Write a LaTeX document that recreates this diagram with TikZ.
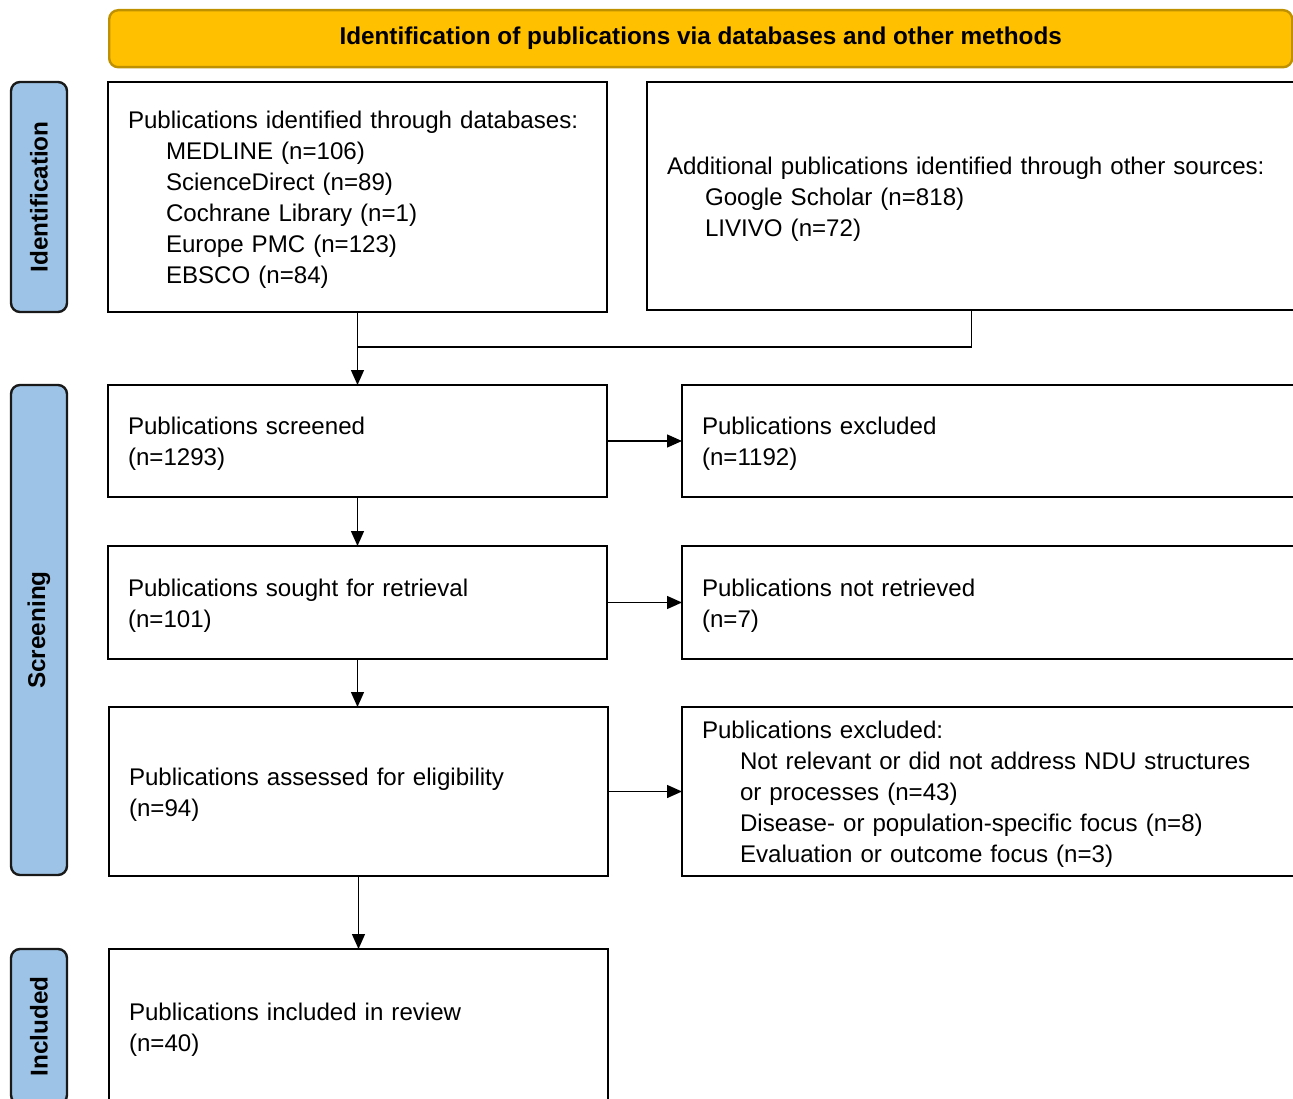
\documentclass[tikz,border=0pt]{standalone}
\usepackage{fontspec}
\setmainfont{Liberation Sans}
\usetikzlibrary{arrows.meta}
\definecolor{hdrfill}{HTML}{FFC000}
\definecolor{hdrline}{HTML}{BF9000}
\definecolor{phasefill}{HTML}{9DC3E6}
\begin{document}
\begin{tikzpicture}[x=1pt,y=-1pt,
  box/.style={draw=black, line width=2.6pt, rectangle, anchor=north west, align=left,
    outer sep=0pt, inner xsep=20pt, inner ysep=0pt, font=\fontsize{24.1}{31}\selectfont,
    execute at begin node={\rule{0pt}{23pt}}},
  phase/.style={draw=black!90, fill=phasefill, line width=2.4pt, rounded corners=9pt,
    rotate=90, minimum height=56pt, inner sep=0pt, font=\bfseries\fontsize{24.3}{29}\selectfont},
  link/.style={line width=1.4pt},
  arr/.style={link, -{Triangle[length=15pt,width=13pt]}}
]
\useasboundingbox (0,0) rectangle (1293,1099);

% banner
\node[draw=hdrline, fill=hdrfill, line width=2.4pt, rounded corners=9pt, anchor=north west,
  minimum width=1183pt, minimum height=57pt, inner sep=0pt,
  font=\bfseries\fontsize{24.3}{29}\selectfont] (hdr) at (108,9)
  {Identification of publications via databases and other methods};

% phase labels
\node[phase, minimum width=230pt] (phid) at (39,197) {Identification};
\node[phase, minimum width=490pt] (phsc) at (39,630) {Screening};
\node[phase, minimum width=155pt] (phin) at (39,1026.5) {Included};

% identification
\node[box, minimum width=499pt, text width=459pt, minimum height=230pt] (dbs) at (108,82)
  {Publications identified through databases:\\
   \hspace*{38pt}MEDLINE (n=106)\\
   \hspace*{38pt}ScienceDirect (n=89)\\
   \hspace*{38pt}Cochrane Library (n=1)\\
   \hspace*{38pt}Europe PMC (n=123)\\
   \hspace*{38pt}EBSCO (n=84)};
\node[box, minimum width=649pt, text width=609pt, minimum height=228pt] (oth) at (647,82)
  {Additional publications identified through other sources:\\
   \hspace*{38pt}Google Scholar (n=818)\\
   \hspace*{38pt}LIVIVO (n=72)};

% screening
\node[box, minimum width=499pt, text width=459pt, minimum height=112pt] (scr) at (108,385)
  {Publications screened\\(n=1293)};
\node[box, minimum width=614pt, text width=574pt, minimum height=112pt] (exc) at (682,385)
  {Publications excluded\\(n=1192)};
\node[box, minimum width=499pt, text width=459pt, minimum height=113pt] (sgt) at (108,546)
  {Publications sought for retrieval\\(n=101)};
\node[box, minimum width=614pt, text width=574pt, minimum height=113pt] (nret) at (682,546)
  {Publications not retrieved\\(n=7)};
\node[box, minimum width=499pt, text width=459pt, minimum height=169pt] (ass) at (109,707)
  {Publications assessed for eligibility\\(n=94)};
\node[box, minimum width=614pt, text width=574pt, minimum height=169pt] (exr) at (682,707)
  {Publications excluded:\\
   \hspace*{38pt}Not relevant or did not address NDU structures\\
   \hspace*{38pt}or processes (n=43)\\
   \hspace*{38pt}Disease- or population-specific focus (n=8)\\
   \hspace*{38pt}Evaluation or outcome focus (n=3)};

% included
\node[box, minimum width=499pt, text width=459pt, minimum height=155pt] (inc) at (109,949)
  {Publications included in review\\(n=40)};

% connectors
\coordinate (lvl) at (0,347);
\coordinate (merge) at (dbs.south |- lvl);
\draw[link] (dbs.south) -- (merge);
\draw[link] (oth.south) |- (merge);
\draw[arr] (merge) -- (scr.north);
\draw[arr] (scr.east) -- (exc.west);
\draw[arr] (scr.south) -- (sgt.north);
\draw[arr] (sgt.east) -- (nret.west);
\draw[arr] (sgt.south) -- (sgt.south |- ass.north);
\draw[arr] (ass.east) -- (exr.west);
\draw[arr] (ass.south) -- (inc.north);
\end{tikzpicture}
\end{document}
